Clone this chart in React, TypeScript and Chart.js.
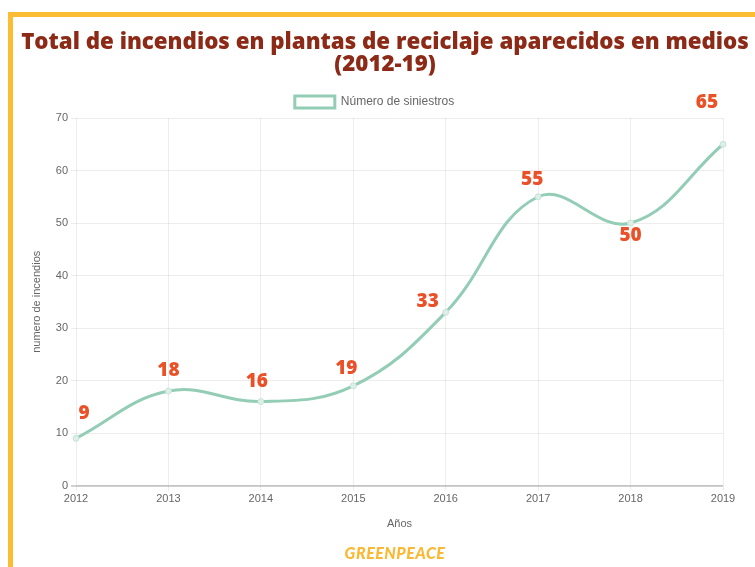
import React, { useEffect, useRef } from "react";
import { Chart, registerables } from "chart.js";

Chart.register(...registerables);

const years = ["2012", "2013", "2014", "2015", "2016", "2017", "2018", "2019"];
const fires = [9, 18, 16, 19, 33, 55, 50, 65];
const yTicks = [0, 10, 20, 30, 40, 50, 60, 70];
const labelOffsets = [
  [8, -25],
  [0, -20],
  [-4, -20],
  [-7, -17],
  [-18, -11],
  [-6, -17],
  [0, 13],
  [-16, -42],
];

const valueLabels = {
  id: "valueLabels",
  afterDatasetsDraw(chart: any) {
    const meta = chart.getDatasetMeta(0);
    const ctx = chart.ctx;
    ctx.save();
    ctx.font = "800 19px 'Open Sans'";
    ctx.fillStyle = "#EA5128";
    ctx.textAlign = "center";
    ctx.textBaseline = "middle";
    meta.data.forEach((pt: any, i: number) => {
      const [dx, dy] = labelOffsets[i];
      ctx.fillText(String(fires[i]), pt.x + dx, pt.y + dy);
    });
    ctx.restore();
  },
};

export default function App() {
  const ref = useRef<HTMLCanvasElement>(null);
  useEffect(() => {
    if (!ref.current) return;
    const chart = new Chart(ref.current, {
      type: "line",
      data: {
        labels: years,
        datasets: [
          {
            label: "Número de siniestros",
            data: fires,
            borderColor: "#93CDB6",
            backgroundColor: "rgba(255,255,255,0)",
            borderWidth: 3,
            tension: 0.4,
            pointRadius: 3,
            pointBackgroundColor: "#DDEFE8",
            pointBorderColor: "#C5E3D7",
            pointBorderWidth: 1,
          },
        ],
      },
      options: {
        responsive: false,
        animation: false,
        devicePixelRatio: 1,
        layout: { padding: { top: 73, left: 26, right: 32, bottom: 32 } },
        plugins: {
          legend: {
            labels: {
              color: "#666",
              font: { size: 12, family: "'Liberation Sans', Arial" },
              boxWidth: 40,
              boxHeight: 12,
              padding: 23,
            },
          },
          tooltip: { enabled: false },
        },
        scales: {
          x: {
            grid: { color: "rgba(0,0,0,0.07)", tickLength: 5 },
            border: { color: "rgba(0,0,0,0.07)" },
            ticks: {
              color: "#666",
              padding: 2,
              font: { size: 11, family: "'Liberation Sans', Arial" },
              maxRotation: 0,
            },
            title: {
              display: true,
              text: "Años",
              color: "#666",
              font: { size: 11, family: "'Liberation Sans', Arial" },
              padding: { top: 10, bottom: 4 },
            },
          },
          y: {
            min: 0,
            max: 70,
            afterBuildTicks(scale: any) {
              scale.ticks = yTicks.map((v) => ({ value: v }));
            },
            afterFit(scale: any) {
              scale.width = 50;
            },
            grid: {
              color: (c: any) => (c.tick && c.tick.value === 0 ? "rgba(0,0,0,0.18)" : "rgba(0,0,0,0.07)"),
              lineWidth: (c: any) => (c.tick && c.tick.value === 0 ? 2 : 1),
              tickLength: 5,
            },
            border: { display: false },
            ticks: {
              color: "#666",
              padding: 3,
              font: { size: 11, family: "'Liberation Sans', Arial" },
            },
            title: {
              display: true,
              text: "numero de incendios",
              color: "#666",
              font: { size: 11, family: "'Liberation Sans', Arial" },
              padding: { top: 4, bottom: 4 },
            },
          },
        },
      },
      plugins: [valueLabels],
    });
    return () => chart.destroy();
  }, []);

  return (
    <div
      style={{
        position: "fixed",
        left: 0,
        top: 0,
        width: 755,
        height: 567,
        background: "#fff",
        overflow: "hidden",
      }}
    >
      <div
        style={{
          position: "absolute",
          left: 8,
          top: 12,
          width: 800,
          height: 600,
          borderLeft: "5px solid #FBBD33",
          borderTop: "5px solid #FBBD33",
        }}
      />
      <canvas ref={ref} width={755} height={567} style={{ position: "absolute", left: 0, top: 0 }} />
      <div
        style={{
          position: "absolute",
          left: 0,
          top: 30,
          width: 770,
          textAlign: "center",
          font: "800 22.3px 'Open Sans'",
          lineHeight: "22px",
          color: "#8C2A17",
        }}
      >
        Total de incendios en plantas de reciclaje aparecidos en medios
        <br />
        (2012-19)
      </div>
      <div
        style={{
          position: "absolute",
          left: 0,
          top: 543,
          width: 790,
          textAlign: "center",
          font: "italic 900 16px Lato",
          letterSpacing: "0.5px",
          color: "#F9B934",
        }}
      >
        GREENPEACE
      </div>
    </div>
  );
}
